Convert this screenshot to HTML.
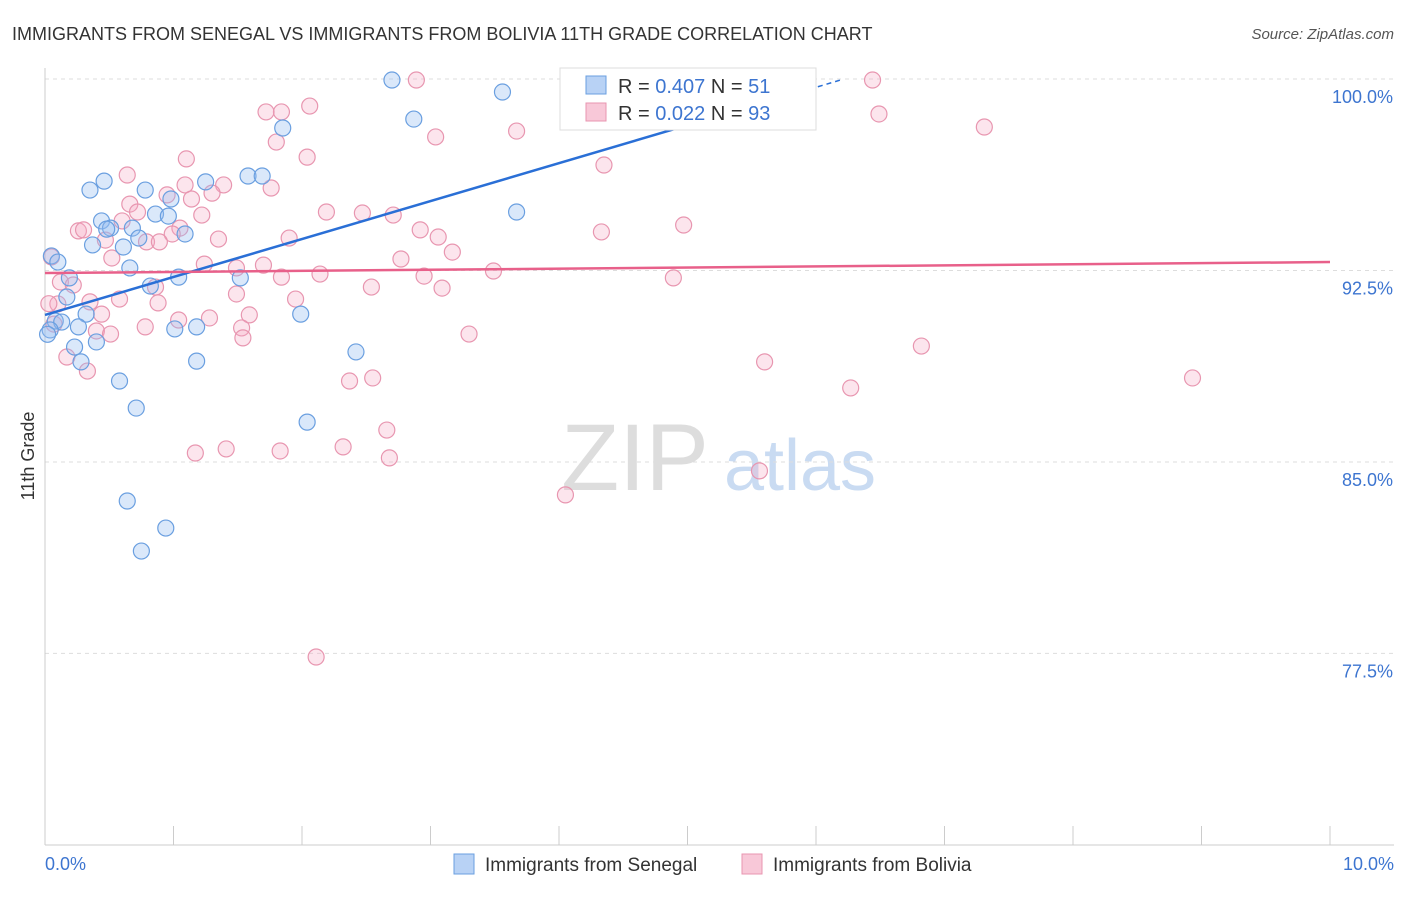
<!DOCTYPE html>
<html><head><meta charset="utf-8"><style>
body{margin:0;background:#fff;font-family:"Liberation Sans",sans-serif;}
svg text{font-family:"Liberation Sans",sans-serif;}
</style></head><body>
<svg id="chart" width="1406" height="892" viewBox="0 0 1406 892">
<text x="12" y="40" font-size="18" fill="#333">IMMIGRANTS FROM SENEGAL VS IMMIGRANTS FROM BOLIVIA 11TH GRADE CORRELATION CHART</text>
<text x="1394" y="39" font-size="15" fill="#555" font-style="italic" text-anchor="end">Source: ZipAtlas.com</text>
<text x="34" y="456" font-size="18" fill="#333" transform="rotate(-90 34 456)" text-anchor="middle">11th Grade</text>
<g><text x="635" y="490" font-size="95" fill="#ddd" font-family="Liberation Serif" text-anchor="middle">ZIP</text><text x="800" y="490" font-size="72" fill="#c9dbf2" text-anchor="middle">atlas</text></g>
<g id="grid"></g><g id="axes"></g><g id="pts"></g><g id="trends"></g>
<g>
<rect x="560" y="68" width="256" height="62" fill="#fff" stroke="#ddd"/>
<rect x="586" y="76" width="20" height="18" fill="#b8d2f5" stroke="#6a9fe0"/>
<text x="618" y="93" font-size="20" fill="#333">R = <tspan fill="#3d75d0">0.407</tspan>   N = <tspan fill="#3d75d0">51</tspan></text>
<rect x="586" y="103" width="20" height="18" fill="#f8c8d8" stroke="#e896b0"/>
<text x="618" y="120" font-size="20" fill="#333">R = <tspan fill="#3d75d0">0.022</tspan>   N = <tspan fill="#3d75d0">93</tspan></text>
</g>
<g>
<rect x="454" y="854" width="20" height="20" fill="#b8d2f5" stroke="#6a9fe0"/>
<text x="485" y="871" font-size="19" fill="#333">Immigrants from Senegal</text>
<rect x="742" y="854" width="20" height="20" fill="#f8c8d8" stroke="#e896b0"/>
<text x="773" y="871" font-size="19" fill="#333">Immigrants from Bolivia</text>
</g>
</svg>
<script>
const xTicks=[0,1,2,3,4,5,6,7,8,9,10];
const yTicks=[100,92.5,85,77.5];
const yTickLabels=["100.0%","92.5%","85.0%","77.5%"];
const xEndLabels=["0.0%","10.0%"];
const senegalX=[2.70,3.56,2.87,1.85,5.87,0.35,0.46,0.78,1.25,1.58,1.69,0.98,0.86,0.96,3.67,0.44,0.51,0.68,0.48,0.37,0.61,0.73,1.09,0.05,0.10,0.66,0.19,1.04,1.52,0.82,0.17,0.32,1.99,0.08,0.13,0.04,0.26,1.01,1.18,0.40,0.23,0.28,1.18,2.42,0.58,0.71,2.04,0.64,0.94,0.75,0.02];
const senegalY=[99.96,99.49,98.43,98.08,98.32,95.65,96.00,95.65,95.97,96.20,96.20,95.30,94.71,94.63,94.79,94.44,94.16,94.16,94.12,93.50,93.42,93.77,93.93,93.07,92.83,92.60,92.21,92.24,92.21,91.89,91.46,90.79,90.79,90.52,90.48,90.17,90.29,90.21,90.29,89.70,89.50,88.92,88.95,89.31,88.17,87.11,86.56,83.47,82.41,81.51,90.0];
const boliviaX=[2.89,6.44,4.09,1.84,1.72,2.06,6.49,3.67,3.04,7.31,1.80,1.10,2.04,4.35,0.64,1.39,1.30,1.09,0.95,1.14,1.76,0.66,0.72,1.22,0.60,2.19,2.47,2.71,4.97,0.26,0.30,1.05,0.99,0.47,1.35,1.90,2.92,3.06,4.33,0.79,0.89,0.05,0.52,3.17,1.24,1.49,1.70,2.77,1.84,2.14,3.49,4.89,2.54,2.95,3.09,0.12,0.22,0.35,0.58,0.86,1.49,1.95,0.88,0.10,0.44,1.59,1.28,1.04,0.78,1.53,1.54,0.40,0.51,3.30,6.82,0.17,0.33,5.60,2.37,2.55,8.93,6.27,2.66,2.32,1.83,1.41,1.17,2.68,5.56,4.05,2.11,0.03,0.07];
const boliviaY=[99.96,99.96,99.26,98.71,98.71,98.94,98.63,97.96,97.73,98.12,97.53,96.87,96.94,96.63,96.24,95.85,95.53,95.85,95.46,95.30,95.73,95.10,94.79,94.67,94.44,94.79,94.75,94.67,94.28,94.05,94.09,94.16,93.93,93.69,93.73,93.77,94.09,93.81,94.01,93.62,93.62,93.03,92.99,93.22,92.75,92.60,92.71,92.95,92.24,92.36,92.48,92.21,91.85,92.28,91.81,92.05,91.93,91.27,91.38,91.85,91.58,91.38,91.23,91.19,90.79,90.76,90.64,90.56,90.29,90.25,89.86,90.13,90.01,90.01,89.54,89.11,88.56,88.92,88.17,88.29,88.29,87.90,86.25,85.59,85.43,85.51,85.35,85.16,84.65,83.71,77.36,91.2,90.4];
const senegalTrend=[90.76,1.486]; // intercept, slope per %
const senegalTrendSolidEnd=5.88, senegalTrendEnd=6.19;
const boliviaTrend=[92.40,92.83]; // y at x=0, x=10
const NS="http://www.w3.org/2000/svg";
const X=v=>45+v*128.5, Y=v=>79+(100-v)*25.53;
function mk(tag,attrs,parent){const e=document.createElementNS(NS,tag);for(const k in attrs)e.setAttribute(k,attrs[k]);document.getElementById(parent).appendChild(e);return e;}
yTicks.forEach((t,i)=>{
 const g=mk('line',{x1:45,x2:1394,y1:Y(t),y2:Y(t),stroke:'#ddd','stroke-dasharray':'4,4'},'grid');
 
 
 const l=mk('text',{x:1393,y:Y(t)+24,'font-size':18,fill:'#3d75d0','text-anchor':'end'},'axes');l.textContent=yTickLabels[i];
 
 
});
const ax=mk('line',{x1:45,x2:45,y1:68,y2:845,stroke:'#ccc'},'axes');


const bx=mk('line',{x1:45,x2:1394,y1:845,y2:845,stroke:'#ccc'},'axes');


xTicks.forEach(t=>{const l=mk('line',{x1:X(t),x2:X(t),y1:826,y2:845,stroke:'#ccc'},'axes');
 
 });
[[0,'start',45],[10,'end',1394]].forEach((a,i)=>{const l=mk('text',{x:a[2],y:870,'font-size':18,fill:'#3d75d0','text-anchor':a[1]},'axes');l.textContent=xEndLabels[i];
 
 });
function pts(xs,ys,fill,stroke,name){xs.forEach((x,i)=>{const c=mk('circle',{cx:X(x),cy:Y(ys[i]),r:8,fill:fill,stroke:stroke,'stroke-width':1.2},'pts');
 
 });}
pts(boliviaX,boliviaY,'rgba(245,170,195,0.3)','#e896b0','bolivia-point');
pts(senegalX,senegalY,'rgba(150,190,240,0.35)','#6a9fe0','senegal-point');
const sy=x=>senegalTrend[0]+senegalTrend[1]*x;
const t1=mk('line',{x1:X(0),y1:Y(sy(0)),x2:X(senegalTrendSolidEnd),y2:Y(sy(senegalTrendSolidEnd)),stroke:'#2a6fd6','stroke-width':2.5},'trends');


const t2=mk('line',{x1:X(senegalTrendSolidEnd),y1:Y(sy(senegalTrendSolidEnd)),x2:X(senegalTrendEnd),y2:Y(sy(senegalTrendEnd)),stroke:'#2a6fd6','stroke-width':1.5,'stroke-dasharray':'5,4'},'trends');


const t3=mk('line',{x1:X(0),y1:Y(boliviaTrend[0]),x2:X(10),y2:Y(boliviaTrend[1]),stroke:'#e8608a','stroke-width':2.5},'trends');


</script>
</body></html>
